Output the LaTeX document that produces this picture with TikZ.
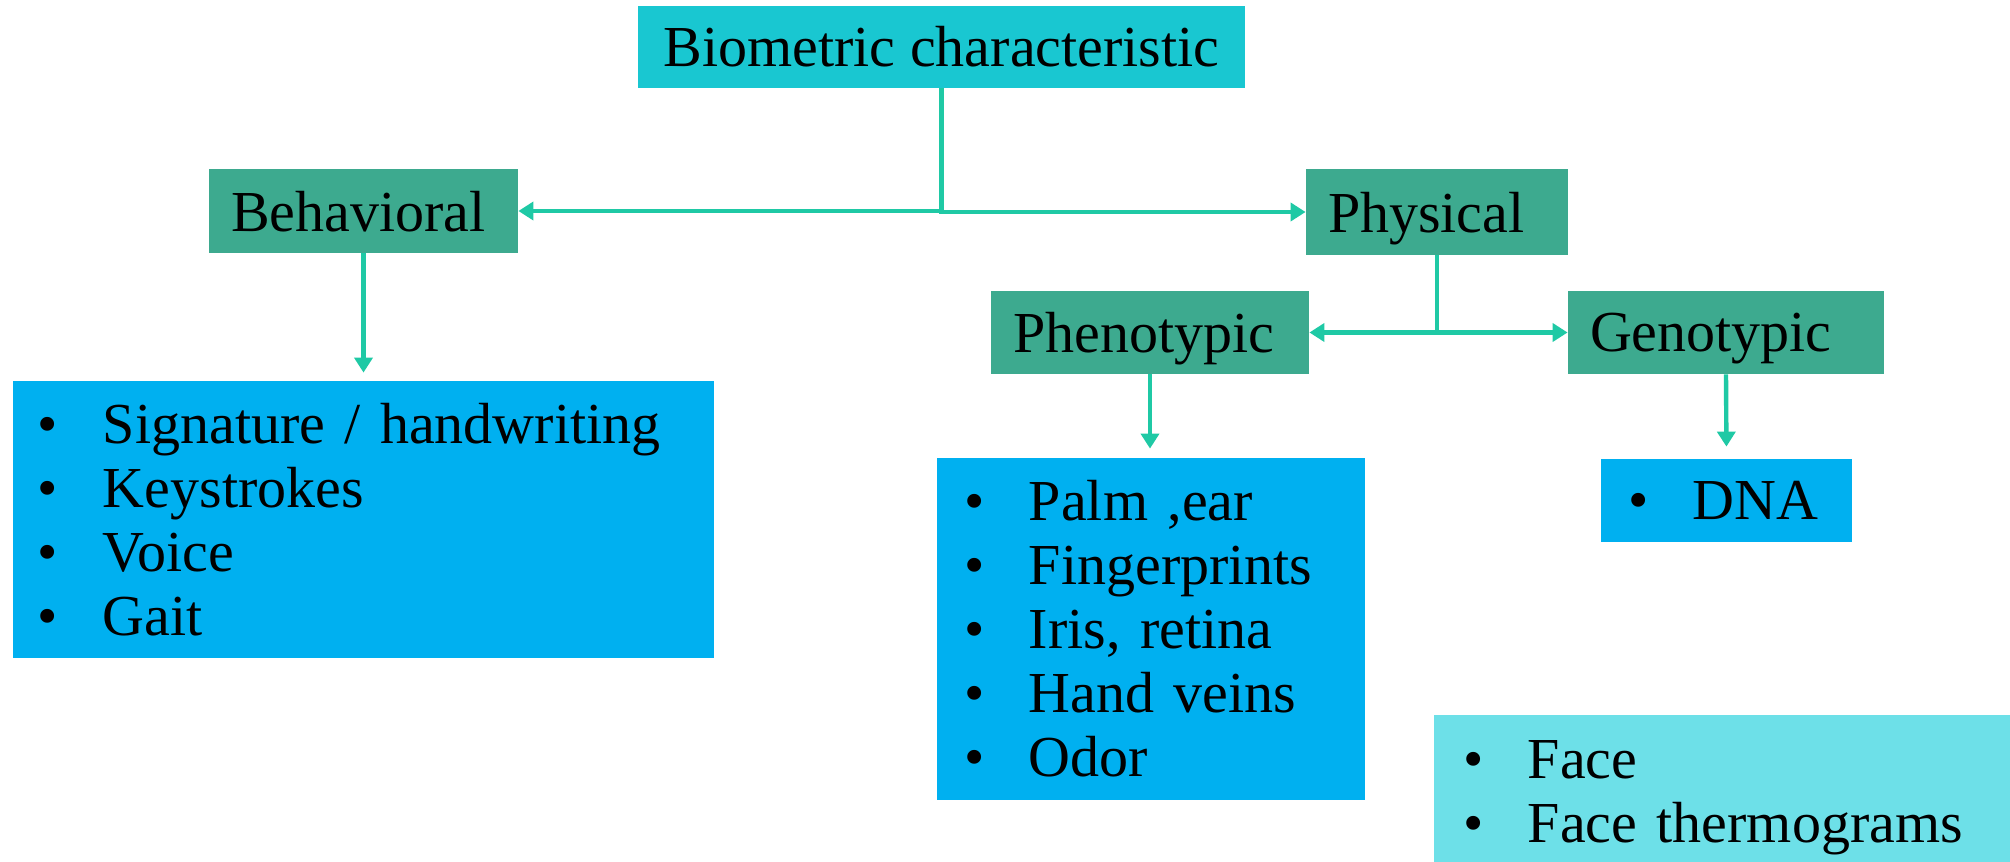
\documentclass[tikz,border=0pt]{standalone}
\usepackage{fontspec}
\setmainfont{Liberation Serif}
\usetikzlibrary{arrows.meta}

\definecolor{headcyan}{HTML}{19C7D1}
\definecolor{groupgreen}{HTML}{3DAA8F}
\definecolor{listblue}{HTML}{00B0F0}
\definecolor{facecyan}{HTML}{6DE0E8}
\definecolor{linkgreen}{HTML}{1FC9A5}

\newcommand{\bitem}[1]{\makebox[32.5pt][l]{\textbullet}#1}

\begin{document}
\begin{tikzpicture}[x=0.5pt,y=-0.5pt,>={Triangle[length=7.5pt,width=9pt]},
    box/.style={inner sep=0pt,font=\fontsize{29}{32}\selectfont},
    group/.style={box,fill=groupgreen,align=left,inner xsep=11pt,text depth=0pt},
    items/.style={box,fill=listblue,align=left},
    link/.style={draw=linkgreen,line width=2.2pt}]

\useasboundingbox (0,0) rectangle (2010,862);

        % draw the title and the two groups
        \node[box,fill=headcyan,minimum width=303.5pt,minimum height=41pt] (bio) at (941.5,47) {Biometric characteristic};
        \node[group,minimum width=154.5pt,minimum height=42pt,text width=132.5pt] (behav) at (363.5,211) {Behavioral};
        \node[group,minimum width=131pt,minimum height=43pt,text width=109pt] (phys) at (1437,212) {Physical};
        \node[group,minimum width=159pt,minimum height=41.5pt,text width=137pt] (pheno) at (1150,332.5) {Phenotypic};
        \node[group,minimum width=158pt,minimum height=41.5pt,text width=136pt] (geno) at (1726,332.5) {Genotypic};

        % draw the lists
        \node[items,minimum width=350.5pt,minimum height=138.5pt,inner xsep=12.5pt,text width=325.5pt] (behavlist) at (363.5,519.5)
            {\bitem{Signature / handwriting}\\ \bitem{Keystrokes}\\ \bitem{Voice}\\ \bitem{Gait}};
        \node[items,minimum width=214pt,minimum height=171pt,inner xsep=13.5pt,text width=187pt] (phenolist) at (1151,629)
            {\bitem{Palm ,ear}\\ \bitem{Fingerprints}\\ \bitem{Iris, retina}\\ \bitem{Hand veins}\\ \bitem{Odor}};
        \node[items,minimum width=125.5pt,minimum height=41.5pt,inner xsep=13.5pt,text width=98.5pt] (genolist) at (1726.5,500.5)
            {\bitem{DNA}};
        % this one runs off the bottom edge
        \node[items,fill=facecyan,minimum width=288pt,minimum height=82.5pt,inner xsep=14.5pt,text width=259pt] (facelist) at (1722,797.5)
            {\bitem{Face}\\ \bitem{Face thermograms}};

        % draw the links
        \draw[link,->] (bio.south) |- (behav.east);
        \draw[link,->] (bio.south) |- (phys.west);
        \draw[link,->] (phys.south) |- (pheno.east);
        \draw[link,->] (phys.south) |- (geno.west);
        \draw[link,->,shorten >=4pt] (behav.south) -- (behavlist.north);
        \draw[link,->,shorten >=4.5pt] (pheno.south) -- (pheno.south |- phenolist.north);
        \draw[link,->,shorten >=6pt] (geno.south) -- (genolist.north);
\end{tikzpicture}
\end{document}
